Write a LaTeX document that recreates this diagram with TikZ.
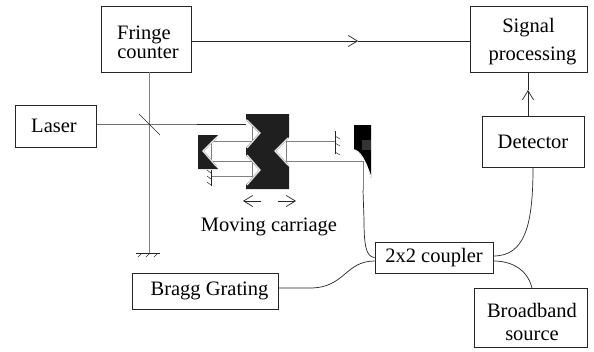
\documentclass[tikz,border=0pt]{standalone}
\usepackage{fontspec}
\setmainfont{Liberation Serif}
\usetikzlibrary{arrows.meta}
\tikzset{
  boxn/.style={draw=black!85,line width=0.8pt,fill=white,align=center,inner sep=0pt,font=\fontsize{20.5}{23}\selectfont},
  wire/.style={draw=black!85,line width=0.7pt},
  beam/.style={draw=black!50,line width=1pt},
  open/.style={-{Straight Barb[length=9pt,width=11pt]},draw=black!85,line width=0.7pt},
  mirror/.style={draw=white,line width=0.7pt},
  mirrorb/.style={draw=black!45,line width=1.6pt},
  lab/.style={font=\fontsize{20.5}{23}\selectfont,inner sep=0pt}
}
\begin{document}
\begin{tikzpicture}[x=1pt,y=-1pt]
\useasboundingbox (0,0) rectangle (594,351);
% nodes
\node[boxn,minimum width=81pt,minimum height=42pt] (laser) at (55.5,126) {\hspace*{-3pt}Laser};
\node[boxn,minimum width=90pt,minimum height=66pt] (fringe) at (146,39) {\rule{0pt}{20pt}\hspace*{-4pt}Fringe\\[-4pt]\hspace*{4pt}counter};
\node[boxn,minimum width=117pt,minimum height=66pt] (signal) at (528.5,39) {\rule{0pt}{19pt}Signal\\[5pt]\hspace*{8pt}processing};
\node[boxn,minimum width=102pt,minimum height=51pt] (detector) at (533,141.5) {Detector};
\node[boxn,minimum width=118pt,minimum height=31pt] (coupler) at (434,257.5) {2x2 coupler};
\node[boxn,minimum width=146pt,minimum height=36pt] (bragg) at (205,291) {\hspace*{9pt}Bragg Grating};
\node[boxn,minimum width=113pt,minimum height=59pt] (broad) at (530.5,317.5) {\rule{0pt}{23pt}\hspace*{3pt}Broadband\\\hspace*{3pt}source};
\node[lab] (carr) at (269,227) {Moving carriage};
% named coordinates
\coordinate (bs) at (149,124);
\coordinate (gnd) at (149,253);
\coordinate (car) at (246,124);
\coordinate (mm) at (335,141);
\coordinate (fib) at (363,161);
\coordinate (dettop) at (528,116);
\coordinate (ahead) at (528,90);
\coordinate (broadin) at (532,288);
% top connector
\draw[open] (fringe.east |- 0,41) -- (358,41);
\draw[wire] (358,41) -- (signal.west |- 0,41);
% detector to signal
\draw[open] (dettop) -- (ahead);
\draw[wire] (ahead) -- (signal.south -| ahead);
% laser and beam splitter
\draw[wire] (laser.east |- bs) -- (bs) -- (car);
\draw[beam] (fringe.south -| bs) -- (gnd);
\draw[wire] (139,114) -- (160,135);
% ground
\draw[wire] (136,253) -- (160,253);
\foreach \x in {142,150,158}{\draw[wire,line width=0.5pt] (\x,253) -- (\x-4,257);}
% blocks
\fill[black!88] (198,135) -- (218,135) -- (202,151) -- (218,169) -- (198,169) -- cycle;
\fill[black!88] (246,114) -- (289,114) -- (289,137) -- (275,151) -- (289,167) -- (289,189) -- (246,189)
  -- (246,185) -- (260,170) -- (246,155) -- (246,148) -- (260,133) -- (246,119) -- cycle;
\fill[black] (354,125) -- (371,125) -- (371,178) -- (366,163) .. controls (362,156) and (358,152) .. (354,149) -- cycle;
\fill[black!80] (362,140) rectangle (371,150);
% beams
\draw[beam] (211,141) -- (253,141);
\draw[beam] (211,161) -- (253,161);
\draw[beam] (286,141) -- (mm);
\draw[beam] (286,161) -- (fib);
\draw[beam] (253,176) -- (211,176);
\draw[beam,line width=0.6pt] (211,141) -- (211,161);
\draw[beam] (252,126) -- (252,141);
\draw[beam] (252,161) -- (252,176);
\draw[beam] (286,141) -- (286,161);
% mirror edges
\draw[mirrorb] (247,120) -- (260,133) -- (247,148);
\draw[mirrorb] (247,155) -- (260,170) -- (247,185);
\draw[mirrorb] (288,138) -- (275,151) -- (288,165);
\draw[mirrorb] (216,138) -- (203,151) -- (216,166);
\draw[mirror] (247,120) -- (260,133) -- (247,148);
\draw[mirror] (247,155) -- (260,170) -- (247,185);
\draw[mirror] (288,138) -- (275,151) -- (288,165);
\draw[mirror] (216,138) -- (203,151) -- (216,166);
% small ground
\draw[wire] (211,170) -- (211,186);
\foreach \y in {173,179,185}{\draw[wire,line width=0.5pt] (211,\y) -- (207,\y-3);}
% top mirror ground
\draw[wire] (335,131) -- (335,154);
\foreach \y in {136,143,152}{\draw[wire,line width=0.5pt] (335,\y) -- (340,\y+3);}
% fibre lens
\draw[white,line width=1pt] (355,150) .. controls (362,153) and (366,163) .. (371,177);
% fibres
\draw[beam] (fib) -- (363,190);
\draw[wire] (363,190) -- (364,220) .. controls (364,245) and (366,257) .. (coupler.west);
\draw[wire] (bragg.east |- 0,288) -- (310,288) .. controls (345,288) and (345,261) .. (coupler.west |- 0,261);
\draw[wire] (coupler.east |- 0,256) .. controls (525,256) and (533,225) .. (detector.south);
\draw[wire] (coupler.east |- 0,261) .. controls (510,261) and (527,268) .. (broadin);
% arrows under carriage
\draw[open] (261,201) -- (243,201);
\draw[open] (278,201) -- (296,201);
\end{tikzpicture}
\end{document}
